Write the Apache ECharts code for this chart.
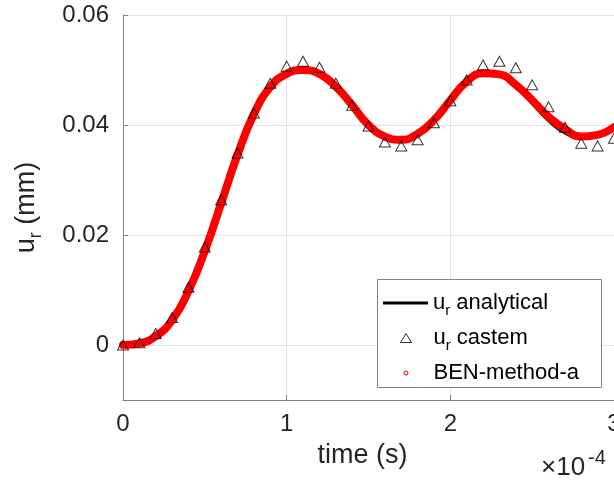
<!DOCTYPE html>
<html>
<head>
<meta charset="utf-8">
<script src="https://cdn.jsdelivr.net/npm/echarts@6/dist/echarts.min.js"></script>
<style>
  html, body { margin: 0; padding: 0; background: #fff; }
  #chart { width: 614px; height: 480px; }
</style>
</head>
<body>
<div id="chart"></div>
<script>
// time in units of 1e-4 s
const timeCurve = [0, 0.1, 0.2, 0.3, 0.4, 0.5, 0.6, 0.7, 0.8, 0.9, 1.0, 1.1, 1.2, 1.3, 1.4, 1.5,
  1.6, 1.7, 1.8, 1.9, 2.0, 2.1, 2.2, 2.3, 2.4, 2.5, 2.6, 2.7, 2.8, 2.9, 3.0];
// ur analytical (mm)
const analytical = [0, 0.0003, 0.0016, 0.0045, 0.0098, 0.0171, 0.0258, 0.0346, 0.0420, 0.0469, 0.0493,
  0.0499, 0.0491, 0.0467, 0.0432, 0.0396, 0.0377, 0.0373, 0.0385, 0.0412, 0.0449, 0.0482, 0.0495,
  0.0489, 0.0467, 0.0437, 0.0406, 0.0384, 0.0374, 0.0378, 0.0392];
// BEN-method-a (mm)
const benMethod = [0, 0.0003, 0.0016, 0.0045, 0.0098, 0.0171, 0.0258, 0.0346, 0.0420, 0.0469, 0.0493,
  0.0500, 0.0493, 0.0470, 0.0436, 0.0400, 0.0379, 0.0373, 0.0384, 0.0409, 0.0445, 0.0479, 0.0494,
  0.0492, 0.0473, 0.0445, 0.0415, 0.0393, 0.0379, 0.0382, 0.0396];
// ur castem (mm)
const timeCastem = timeCurve;
const castem = [0, 0.0004, 0.0021, 0.0050, 0.0105, 0.0178, 0.0264, 0.0349, 0.0422, 0.0476, 0.0507,
  0.0516, 0.0505, 0.0476, 0.0436, 0.0398, 0.0369, 0.0362, 0.0373, 0.0404, 0.0444, 0.0482, 0.0509,
  0.0516, 0.0504, 0.0473, 0.0433, 0.0396, 0.0367, 0.0362, 0.0376];
const xTicks = [0, 1, 2, 3];
const yTicks = [0, 0.02, 0.04, 0.06];

const font = "'Liberation Sans', Arial, sans-serif";
const zip = (xs, ys) => xs.map((x, i) => [x, ys[i]]);
const subName = txt => "{u|u}{r|r} " + txt;
const legendRich = {
  u: { fontSize: 22, fontFamily: font, color: "#000" },
  r: { fontSize: 15, fontFamily: font, color: "#000", padding: [16, 0, 0, 0] }
};
// legend icons drawn in the middle of a 45 px wide box
const triIcon = "path://M0,0M45,11M17,10L28,10L22.5,1Z";
const dotIcon = "path://M0,0M45,11M24.5,5.5A2,2,0,1,1,20.5,5.5A2,2,0,1,1,24.5,5.5Z";

const myChart = echarts.init(document.getElementById("chart"));
const option = {
  animation: false,
  grid: { left: 123, top: 15, right: 0, bottom: 80, outerBoundsMode: "none", containLabel: false },
  xAxis: {
    type: "value",
    min: 0,
    max: 3,
    interval: 1,
    name: "time (s)",
    nameLocation: "middle",
    nameGap: 42,
    nameTextStyle: { fontSize: 27, fontFamily: font, color: "#262626", padding: [0, 12, 0, 0] },
    axisLine: { show: true, onZero: false, lineStyle: { color: "#808080", width: 1 } },
    axisTick: { show: true, inside: true, length: 5, lineStyle: { color: "#808080" } },
    axisLabel: { fontSize: 24, fontFamily: font, color: "#262626", margin: 12, hideOverlap: false },
    splitLine: { show: true, lineStyle: { color: "#e3e3e3", width: 1 } }
  },
  yAxis: {
    type: "value",
    min: -0.01,
    max: 0.06,
    name: subName("(mm)"),
    nameLocation: "middle",
    nameGap: 78,
    nameRotate: 90,
    nameTextStyle: {
      fontSize: 27, fontFamily: font, color: "#262626",
      rich: {
        u: { fontSize: 27, fontFamily: font, color: "#262626" },
        r: { fontSize: 18, fontFamily: font, color: "#262626", padding: [18, 0, 0, 0] }
      }
    },
    axisLine: { show: true, lineStyle: { color: "#808080", width: 1 } },
    axisTick: { show: true, inside: true, length: 5, customValues: yTicks, lineStyle: { color: "#808080" } },
    axisLabel: {
      fontSize: 24, fontFamily: font, color: "#262626", margin: 14,
      customValues: yTicks,
      formatter: v => (Math.abs(v) < 1e-9 ? "0" : v.toFixed(2))
    },
    splitLine: { show: true, lineStyle: { color: "#e3e3e3", width: 1 } }
  },
  legend: [
    {
      data: [{ name: "analytical", icon: "rect", itemStyle: { color: "#000", borderWidth: 0 } }],
      left: 378, top: 287, itemWidth: 45, itemHeight: 3, z: 10,
      formatter: () => subName("analytical"),
      textStyle: { fontSize: 22, fontFamily: font, color: "#000", rich: legendRich }
    },
    {
      data: [{ name: "castem", icon: triIcon, itemStyle: { color: "#fff", borderColor: "#000", borderWidth: 1 } }],
      left: 378, top: 322, itemWidth: 45, itemHeight: 11, z: 10,
      formatter: () => subName("castem"),
      textStyle: { fontSize: 22, fontFamily: font, color: "#000", rich: legendRich }
    },
    {
      data: [{ name: "BEN-method-a", icon: dotIcon, itemStyle: { color: "#fff", borderColor: "#ff0000", borderWidth: 1 } }],
      left: 378, top: 357, itemWidth: 45, itemHeight: 11, z: 10,
      textStyle: { fontSize: 22, fontFamily: font, color: "#000" }
    }
  ],
  graphic: [
    {
      type: "rect", left: 377, top: 279, z: 5,
      shape: { width: 224, height: 108 },
      style: { fill: "#fff", stroke: "#828282", lineWidth: 1 }
    },
    {
      type: "text", left: 541, top: 448, z: 5,
      style: {
        text: "{a|×10}{b|-4}",
        rich: {
          a: { fontSize: 26, fontFamily: font, fill: "#262626" },
          b: { fontSize: 20, fontFamily: font, fill: "#262626", padding: [0, 0, 20, 3] }
        }
      }
    }
  ],
  series: [
    {
      name: "analytical",
      type: "line",
      data: zip(timeCurve, analytical),
      smooth: true,
      symbol: "none",
      lineStyle: { color: "#000", width: 1.5 },
      itemStyle: { color: "#000" },
      z: 2
    },
    {
      name: "castem",
      type: "scatter",
      data: zip(timeCastem, castem),
      symbol: "triangle",
      symbolSize: [11, 10],
      itemStyle: { color: "transparent", borderColor: "#000", borderWidth: 1 },
      z: 2
    },
    {
      name: "BEN-method-a",
      type: "line",
      data: zip(timeCurve, benMethod),
      smooth: true,
      symbol: "none",
      lineStyle: { color: "#ff0000", width: 8, cap: "round" },
      itemStyle: { color: "#ff0000" },
      z: 2
    }
  ]
};
myChart.setOption(option);
</script>
</body>
</html>
